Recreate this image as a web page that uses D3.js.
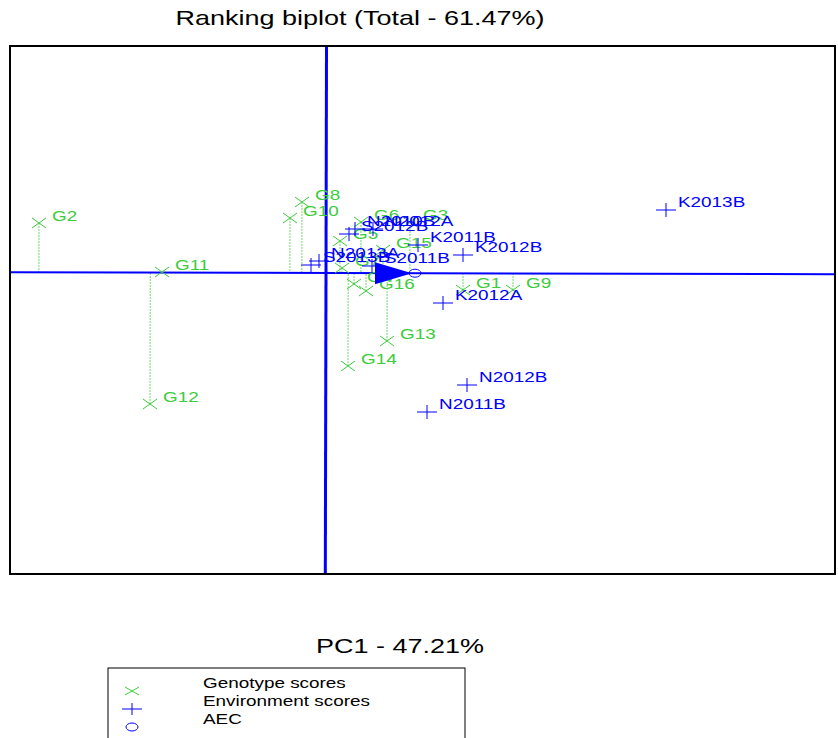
<!DOCTYPE html>
<html>
<head>
<meta charset="utf-8">
<script src="https://cdn.jsdelivr.net/npm/d3@7"></script>
<style>
  body { margin: 0; background: #fff; }
  text { font-family: "Liberation Sans", Arial, sans-serif; }
</style>
</head>
<body>
<div id="chart"></div>
<script>
// genotype scores (PC1, PC2)
var genotypes = ["G1", "G2", "G3", "G4", "G5", "G6", "G7", "G8", "G9", "G10", "G11", "G12", "G13", "G14", "G15", "G16"];
var genoPC1 = [1.37, -2.87, 0.84, 0.28, 0.14, 0.35, 0.16, -0.24, 1.87, -0.36, -1.64, -1.76, 0.61, 0.22, 0.57, 0.40];
var genoPC2 = [-0.17, 0.50, 0.51, -0.11, 0.32, 0.51, 0.05, 0.71, -0.17, 0.55, 0.01, -1.31, -0.68, -0.93, 0.23, -0.18];

// environment scores (PC1, PC2)
var environments = ["K2013B", "K2012B", "K2011B", "K2012A", "N2012B", "N2011B", "N2013A", "S2013B", "S2011B", "S2012B", "N2010B", "N2012A"];
var envPC1 = [3.40, 1.37, 0.92, 1.17, 1.41, 1.01, -0.07, -0.15, 0.46, 0.23, 0.29, 0.47];
var envPC2 = [0.63, 0.18, 0.28, -0.30, -1.12, -1.39, 0.12, 0.08, 0.07, 0.39, 0.44, 0.44];

// average environment coordinate
var aec = [0.89, -0.002];

var xDomain = [-3.16, 5.09];
var yDomain = [-3.01, 2.27];

var title = "Ranking biplot (Total - 61.47%)";
var xLabel = "PC1 - 47.21%";
var legendLabels = ["Genotype scores", "Environment scores", "AEC"];

var green = "#3ccc3c";
var lineGreen = "#6fd86f";
var blue = "#0000ff";
var stretch = 1.35;

var width = 838, height = 738;
var plot = { left: 10, top: 46, right: 835, bottom: 574 };

var svg = d3.select("#chart").append("svg")
    .attr("width", width)
    .attr("height", height);

var x = d3.scaleLinear().domain(xDomain).range([plot.left, plot.right]);
var y = d3.scaleLinear().domain(yDomain).range([plot.bottom, plot.top]);

// wide-looking text like the original export
function label(g, tx, ty, str, size, color, anchor) {
    return g.append("text")
        .attr("transform", "translate(" + tx + "," + ty + ") scale(" + stretch + ",1)")
        .attr("font-size", size + "px")
        .attr("fill", color)
        .attr("text-anchor", anchor || "start")
        .text(str);
}

function cross(g, cx, cy, hw, hh, color) {
    g.append("path")
        .attr("d", "M" + (cx - hw) + "," + (cy - hh) + "L" + (cx + hw) + "," + (cy + hh) +
            "M" + (cx - hw) + "," + (cy + hh) + "L" + (cx + hw) + "," + (cy - hh))
        .attr("stroke", color).attr("stroke-width", 1).attr("fill", "none");
}

function plus(g, cx, cy, hw, hh, color) {
    g.append("path")
        .attr("d", "M" + (cx - hw) + "," + cy + "L" + (cx + hw) + "," + cy +
            "M" + cx + "," + (cy - hh) + "L" + cx + "," + (cy + hh))
        .attr("stroke", color).attr("stroke-width", 1).attr("fill", "none");
}

var geno = genotypes.map(function(d, i) { return { name: d, x: genoPC1[i], y: genoPC2[i] }; });
var env = environments.map(function(d, i) { return { name: d, x: envPC1[i], y: envPC2[i] }; });

// title
label(svg, 360, 25, title, 20, "#000", "middle");

var g = svg.append("g");

// projections onto the AEC abscissa
var len = Math.sqrt(aec[0] * aec[0] + aec[1] * aec[1]);
var ux = aec[0] / len, uy = aec[1] / len;
g.selectAll(".proj")
    .data(geno)
    .enter().append("line")
    .attr("class", "proj")
    .attr("x1", function(d) { return x(d.x); })
    .attr("y1", function(d) { return y(d.y); })
    .attr("x2", function(d) { var t = d.x * ux + d.y * uy; return x(t * ux); })
    .attr("y2", function(d) { var t = d.x * ux + d.y * uy; return y(t * uy); })
    .attr("stroke", lineGreen)
    .attr("stroke-width", 1)
    .attr("stroke-dasharray", "2,1");

// AEC abscissa (through origin and AEC)
var a0 = xDomain[0] / ux, a1 = xDomain[1] / ux;
g.append("line")
    .attr("x1", x(a0 * ux)).attr("y1", y(a0 * uy))
    .attr("x2", x(a1 * ux)).attr("y2", y(a1 * uy))
    .attr("stroke", blue).attr("stroke-width", 2);

// AEC ordinate, perpendicular through origin
var b0 = yDomain[0] / ux, b1 = yDomain[1] / ux;
g.append("line")
    .attr("x1", x(-b0 * uy)).attr("y1", y(b0 * ux))
    .attr("x2", x(-b1 * uy)).attr("y2", y(b1 * ux))
    .attr("stroke", blue).attr("stroke-width", 3);

// genotype markers and labels
geno.forEach(function(d) {
    cross(g, x(d.x), y(d.y), 7, 5, green);
});
geno.forEach(function(d) {
    label(g, x(d.x) + 13, y(d.y) - 2, d.name, 14, green);
});

// environment markers and labels
env.forEach(function(d) {
    plus(g, x(d.x), y(d.y), 10, 7, blue);
});
env.forEach(function(d) {
    label(g, x(d.x) + 12, y(d.y) - 3, d.name, 14, blue);
});

// arrow towards AEC
var tipX = x(aec[0]) - 3, tipY = y(aec[1]);
g.append("path")
    .attr("d", "M" + tipX + "," + tipY + "L" + (tipX - 37) + "," + (tipY - 11) +
        "L" + (tipX - 37) + "," + (tipY + 11) + "Z")
    .attr("fill", blue);

// AEC marker
g.append("ellipse")
    .attr("cx", x(aec[0])).attr("cy", y(aec[1]))
    .attr("rx", 6).attr("ry", 4)
    .attr("fill", "none").attr("stroke", blue).attr("stroke-width", 1);

// frame
svg.append("rect")
    .attr("x", plot.left).attr("y", plot.top)
    .attr("width", plot.right - plot.left).attr("height", plot.bottom - plot.top)
    .attr("fill", "none").attr("stroke", "#000").attr("stroke-width", 2);

// x axis title
label(svg, 400, 653, xLabel, 20, "#000", "middle");

// legend
var legend = svg.append("g").attr("transform", "translate(108,668)");
legend.append("rect")
    .attr("width", 357).attr("height", 80)
    .attr("fill", "none").attr("stroke", "#000").attr("stroke-width", 1);

cross(legend, 24, 23, 7, 4, green);
plus(legend, 24, 41, 10, 6, blue);
legend.append("ellipse")
    .attr("cx", 24).attr("cy", 59).attr("rx", 6).attr("ry", 4)
    .attr("fill", "none").attr("stroke", blue);

legendLabels.forEach(function(d, i) {
    label(legend, 95, 20 + i * 18, d, 14, "#000");
});
</script>
</body>
</html>
